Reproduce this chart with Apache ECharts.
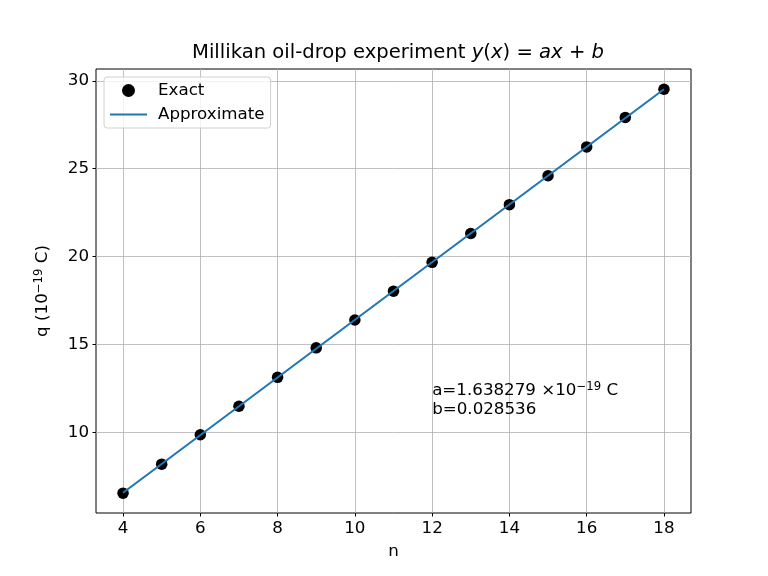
<!DOCTYPE html>
<html><head><meta charset="utf-8">
<script src="https://cdn.jsdelivr.net/npm/echarts@6/dist/echarts.min.js"></script>
<style>html,body{margin:0;padding:0;background:#fff}#c{width:768px;height:576px}</style>
</head><body><div id="c"></div>
<script>
const nValues = [4,5,6,7,8,9,10,11,12,13,14,15,16,17,18];
const qExact = [6.558,8.206,9.880,11.50,13.14,14.82,16.40,18.04,19.68,21.32,22.96,24.60,26.24,27.92,29.52];
const slopeA = 1.638279;
const interceptB = 0.028536;
const xTicks = [4,6,8,10,12,14,16,18];
const yTicks = [10,15,20,25,30];

const fitLine = [[nValues[0], slopeA*nValues[0]+interceptB],[nValues[nValues.length-1], slopeA*nValues[nValues.length-1]+interceptB]];
const font = 'DejaVu Sans';
const fs = 16.7;
const lineIcon = 'path://M0,0 L0.01,0 L0,0.01 Z M0,5.4 L37,5.4 L37,7.6 L0,7.6 Z M0,13 L0.01,13 L0,12.99 Z';
const chart = echarts.init(document.getElementById('c'));
const opt = {
  animation:false,
  backgroundColor:'#fff',
  textStyle:{fontFamily:font},
  title:{text:'Millikan oil-drop experiment {i|y}({i|x}) = {i|ax} + {i|b}', left:393, top:38, textAlign:'center',
    textStyle:{fontFamily:font,fontSize:19.6,fontWeight:'normal',color:'#000',
      rich:{i:{fontFamily:font,fontSize:19.6,fontStyle:'italic',color:'#000'}}}},
  grid:{left:96,right:77,top:69,bottom:63,show:true,borderColor:'#000',borderWidth:1,backgroundColor:'transparent'},
  legend:{left:104,top:77,orient:'vertical',itemGap:7,padding:[5,6,5,6],borderColor:'#d0d0d0',borderWidth:1,borderRadius:3,
    backgroundColor:'rgba(255,255,255,0.8)',itemWidth:37,itemHeight:13,
    textStyle:{fontFamily:font,fontSize:fs,color:'#000',padding:[0,0,0,6]},
    data:[{name:'Exact',icon:'circle',itemStyle:{opacity:1}},{name:'Approximate',icon:lineIcon}]},
  xAxis:{type:'value',min:3.3,max:18.7,interval:2,
    name:'n',nameLocation:'middle',nameGap:30,nameTextStyle:{fontFamily:font,fontSize:fs,color:'#000'},
    axisLine:{show:false},
    axisTick:{show:true,length:3.5,lineStyle:{color:'#000'},customValues:xTicks},
    axisLabel:{fontFamily:font,fontSize:fs,color:'#000',margin:7,customValues:xTicks},
    splitLine:{show:true,lineStyle:{color:'#b0b0b0',width:0.8}}},
  yAxis:{type:'value',min:5.43,max:30.67,interval:5,
    name:'q (10{s|−19} C)',nameLocation:'middle',nameGap:43,nameRotate:90,
    nameTextStyle:{fontFamily:font,fontSize:fs,color:'#000',rich:{s:{fontFamily:font,fontSize:11.7,verticalAlign:'top',padding:[0,0,8,0],color:'#000'}}},
    axisLine:{show:false},
    axisTick:{show:true,length:3.5,lineStyle:{color:'#000'},customValues:yTicks},
    axisLabel:{fontFamily:font,fontSize:fs,color:'#000',margin:7,customValues:yTicks},
    splitLine:{show:true,lineStyle:{color:'#b0b0b0',width:0.8}}},
  series:[
    {name:'Exact',type:'scatter',symbol:'circle',symbolSize:11.5,itemStyle:{color:'#000',opacity:1},
      data:nValues.map((n,i)=>[n,qExact[i]]),z:2},
    {name:'Approximate',type:'line',showSymbol:false,symbol:'none',lineStyle:{color:'#1f77b4',width:2.1},itemStyle:{color:'#1f77b4'},
      data:fitLine,z:3}
  ]
};
chart.setOption(opt);
const p = chart.convertToPixel({gridIndex:0},[12,11]);
chart.setOption({graphic:[{type:'text',left:p[0],top:p[1]-34,z:10,
  style:{text:'a=1.638279 ×10{s|−19} C\nb=0.028536',fontFamily:font,fontSize:fs,fill:'#000',lineHeight:19,
    rich:{s:{fontFamily:font,fontSize:11.7,verticalAlign:'top',padding:[0,0,8,0],fill:'#000'}}}}]});
</script></body></html>
